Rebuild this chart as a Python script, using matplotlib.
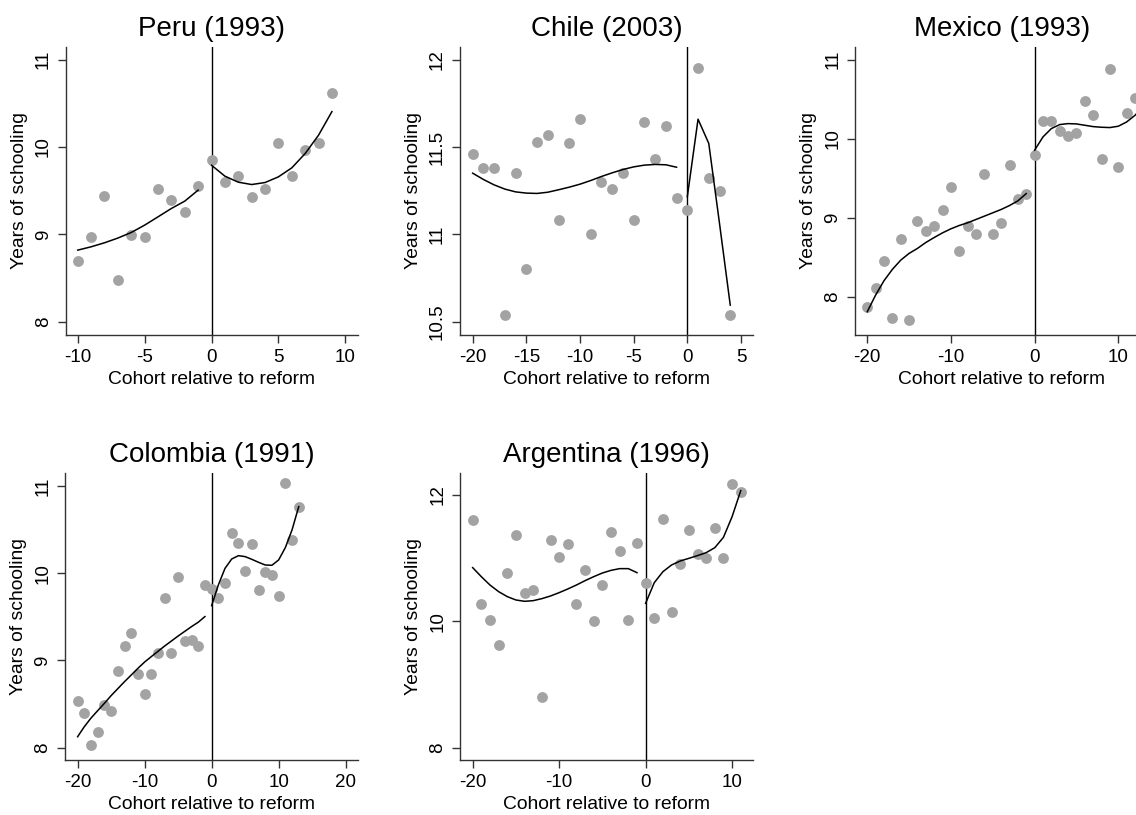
import matplotlib
matplotlib.use('Agg')
import matplotlib.pyplot as plt

plt.rcParams['font.family'] = ['Liberation Sans', 'DejaVu Sans']

# ---------------- data ----------------
peru_x = [-10, -9, -8, -7, -6, -5, -4, -3, -2, -1, 0, 1, 2, 3, 4, 5, 6, 7, 8, 9]
peru_y = [8.69, 8.97, 9.44, 8.48, 8.99, 8.97, 9.52, 9.39, 9.26, 9.555,
          9.85, 9.60, 9.67, 9.43, 9.52, 10.05, 9.67, 9.97, 10.05, 10.62]
peru_fit_lx = [-10, -9, -8, -7, -6, -5, -4, -3, -2, -1]
peru_fit_ly = [8.819, 8.857, 8.903, 8.957, 9.021, 9.105, 9.200, 9.296, 9.380, 9.506]
peru_fit_rx = [0, 1, 2, 3, 4, 5, 6, 7, 8, 9]
peru_fit_ry = [9.791, 9.666, 9.597, 9.570, 9.593, 9.658, 9.761, 9.925, 10.135, 10.405]

chile_x = [-20, -19, -18, -17, -16, -15, -14, -13, -12, -11, -10, -9, -8, -7, -6,
           -5, -4, -3, -2, -1, 0, 1, 2, 3, 4]
chile_y = [11.46, 11.38, 11.38, 10.54, 11.35, 10.80, 11.53, 11.57, 11.08, 11.52,
           11.66, 11.00, 11.30, 11.26, 11.35, 11.08, 11.64, 11.43, 11.62, 11.21,
           11.14, 11.95, 11.32, 11.25, 10.54]
chile_fit_lx = [-20, -19, -18, -17, -16, -15, -14, -13, -12, -11, -10, -9, -8, -7,
                -6, -5, -4, -3, -2, -1]
chile_fit_ly = [11.350, 11.314, 11.283, 11.259, 11.243, 11.236, 11.234, 11.241,
                11.255, 11.270, 11.287, 11.308, 11.331, 11.352, 11.371, 11.386,
                11.396, 11.400, 11.398, 11.384]
chile_fit_rx = [0, 1, 2, 3, 4]
chile_fit_ry = [11.215, 11.659, 11.520, 11.062, 10.595]

mexico_x = [-20, -19, -18, -17, -16, -15, -14, -13, -12, -11, -10, -9, -8, -7, -6,
            -5, -4, -3, -2, -1, 0, 1, 2, 3, 4, 5, 6, 7, 8, 9, 10, 11, 12]
mexico_y = [7.87, 8.11, 8.45, 7.73, 8.74, 7.71, 8.96, 8.84, 8.90, 9.10, 9.39, 8.58,
            8.90, 8.80, 9.55, 8.80, 8.93, 9.67, 9.24, 9.30, 9.79, 10.23, 10.22,
            10.10, 10.03, 10.07, 10.48, 10.30, 9.75, 10.88, 9.65, 10.32, 10.52]
mexico_fit_lx = [-20, -19, -18, -17, -16, -15, -14, -13, -12, -11, -10, -9, -8, -7,
                 -6, -5, -4, -3, -2, -1]
mexico_fit_ly = [7.815, 8.026, 8.207, 8.350, 8.467, 8.552, 8.615, 8.690, 8.753,
                 8.812, 8.863, 8.905, 8.939, 8.981, 9.023, 9.065, 9.107, 9.157,
                 9.216, 9.308]
mexico_fit_rx = [0, 1, 2, 3, 4, 5, 6, 7, 8, 9, 10, 11, 12, 13]
mexico_fit_ry = [9.856, 10.024, 10.129, 10.180, 10.192, 10.188, 10.171, 10.154,
                 10.146, 10.142, 10.159, 10.213, 10.297, 10.42]

colombia_x = [-20, -19, -18, -17, -16, -15, -14, -13, -12, -11, -10, -9, -8, -7, -6,
              -5, -4, -3, -2, -1, 0, 1, 2, 3, 4, 5, 6, 7, 8, 9, 10, 11, 12, 13]
colombia_y = [8.53, 8.40, 8.03, 8.18, 8.49, 8.42, 8.88, 9.17, 9.31, 8.84, 8.62,
              8.84, 9.09, 9.72, 9.09, 9.96, 9.22, 9.23, 9.17, 9.87, 9.82, 9.72,
              9.89, 10.46, 10.35, 10.02, 10.33, 9.81, 10.01, 9.98, 9.74, 11.03,
              10.38, 10.76]
colombia_fit_lx = [-20, -19, -18, -17, -16, -15, -14, -13, -12, -11, -10, -9, -8,
                   -7, -6, -5, -4, -3, -2, -1]
colombia_fit_ly = [8.126, 8.241, 8.340, 8.425, 8.509, 8.597, 8.677, 8.757, 8.833,
                   8.910, 8.982, 9.044, 9.105, 9.166, 9.223, 9.280, 9.334, 9.388,
                   9.438, 9.503]
colombia_fit_rx = [0, 1, 2, 3, 4, 5, 6, 7, 8, 9, 10, 11, 12, 13]
colombia_fit_ry = [9.628, 9.865, 10.056, 10.163, 10.201, 10.190, 10.159, 10.125,
                   10.094, 10.091, 10.152, 10.293, 10.496, 10.763]

argentina_x = [-20, -19, -18, -17, -16, -15, -14, -13, -12, -11, -10, -9, -8, -7,
               -6, -5, -4, -3, -2, -1, 0, 1, 2, 3, 4, 5, 6, 7, 8, 9, 10, 11]
argentina_y = [11.60, 10.28, 10.02, 9.62, 10.76, 11.37, 10.45, 10.49, 8.81, 11.29,
               11.02, 11.22, 10.28, 10.81, 10.00, 10.58, 11.42, 11.11, 10.02,
               11.24, 10.61, 10.05, 11.62, 10.15, 10.90, 11.45, 11.07, 11.01,
               11.47, 11.01, 12.18, 12.05]
argentina_fit_lx = [-20, -19, -18, -17, -16, -15, -14, -13, -12, -11, -10, -9, -8,
                    -7, -6, -5, -4, -3, -2, -1]
argentina_fit_ly = [10.850, 10.707, 10.575, 10.470, 10.391, 10.338, 10.317, 10.327,
                    10.359, 10.401, 10.454, 10.512, 10.575, 10.644, 10.707, 10.765,
                    10.807, 10.834, 10.834, 10.770]
argentina_fit_rx = [0, 1, 2, 3, 4, 5, 6, 7, 8, 9, 10, 11]
argentina_fit_ry = [10.285, 10.612, 10.786, 10.892, 10.955, 10.997, 11.040, 11.087,
                    11.166, 11.330, 11.657, 12.069]

titles = ["Peru (1993)", "Chile (2003)", "Mexico (1993)", "Colombia (1991)",
          "Argentina (1996)"]
xticks_list = [[-10, -5, 0, 5, 10], [-20, -15, -10, -5, 0, 5], [-20, -10, 0, 10],
               [-20, -10, 0, 10, 20], [-20, -10, 0, 10]]
yticks_list = [[8, 9, 10, 11], [10.5, 11, 11.5, 12], [8, 9, 10, 11],
               [8, 9, 10, 11], [8, 10, 12]]
yticklabels_list = [["8", "9", "10", "11"], ["10.5", "11", "11.5", "12"],
                    ["8", "9", "10", "11"], ["8", "9", "10", "11"],
                    ["8", "10", "12"]]

# ---------------- layout ----------------
W, H = 1136, 815
fig = plt.figure(figsize=(W / 100, H / 100), dpi=100)


def pos(l, r, t, b):
    return [l / W, (H - b) / H, (r - l) / W, (b - t) / H]


panels = [
    dict(rect=pos(65.7, 358, 47, 335), xlim=(-10.9, 10.95), ylim=(7.847, 11.145),
         data=(peru_x, peru_y, peru_fit_lx, peru_fit_ly, peru_fit_rx, peru_fit_ry)),
    dict(rect=pos(460, 753, 47, 335), xlim=(-21.18, 6.12), ylim=(10.424, 12.072),
         data=(chile_x, chile_y, chile_fit_lx, chile_fit_ly, chile_fit_rx, chile_fit_ry)),
    dict(rect=pos(855.3, 1148, 47, 335), xlim=(-21.43, 13.55), ylim=(7.521, 11.16),
         data=(mexico_x, mexico_y, mexico_fit_lx, mexico_fit_ly, mexico_fit_rx, mexico_fit_ry)),
    dict(rect=pos(65.3, 358.3, 473.3, 760), xlim=(-21.84, 21.89), ylim=(7.859, 11.145),
         data=(colombia_x, colombia_y, colombia_fit_lx, colombia_fit_ly, colombia_fit_rx, colombia_fit_ry)),
    dict(rect=pos(460.3, 753.3, 473.3, 760), xlim=(-21.43, 12.45), ylim=(7.805, 12.343),
         data=(argentina_x, argentina_y, argentina_fit_lx, argentina_fit_ly, argentina_fit_rx, argentina_fit_ry)),
]

spine_col = '#333333'
dot_col = '#a3a3a3'

for i, p in enumerate(panels):
    ax = fig.add_axes(p['rect'])
    x, y, lx, ly, rx, ry = p['data']
    ax.axvline(0, color='black', lw=1.0, zorder=1)
    ax.plot(x, y, 'o', color=dot_col, ms=7.8, mec='none', zorder=2, clip_on=False)
    ax.plot(lx, ly, color='black', lw=1.1, zorder=3)
    ax.plot(rx, ry, color='black', lw=1.1, zorder=3)
    ax.set_xlim(*p['xlim'])
    ax.set_ylim(*p['ylim'])
    ax.set_xticks(xticks_list[i])
    ax.set_xticklabels([str(t) for t in xticks_list[i]])
    ax.set_yticks(yticks_list[i])
    ax.set_yticklabels(yticklabels_list[i], rotation=90, va='center')
    for s in ['top', 'right']:
        ax.spines[s].set_visible(False)
    for s in ['left', 'bottom']:
        ax.spines[s].set_color(spine_col)
        ax.spines[s].set_linewidth(1.0)
    ax.tick_params(axis='both', direction='out', length=5.5, width=1.0,
                   color=spine_col, labelsize=13.5, pad=4.5)
    ax.set_xlabel("Cohort relative to reform", fontsize=13.9, labelpad=4)
    ax.set_ylabel("Years of schooling", fontsize=13.9, labelpad=5)
    ax.set_title(titles[i], fontsize=20, pad=8)
    ax.set_facecolor('white')

fig.savefig('out.png', dpi=100, facecolor='white')
